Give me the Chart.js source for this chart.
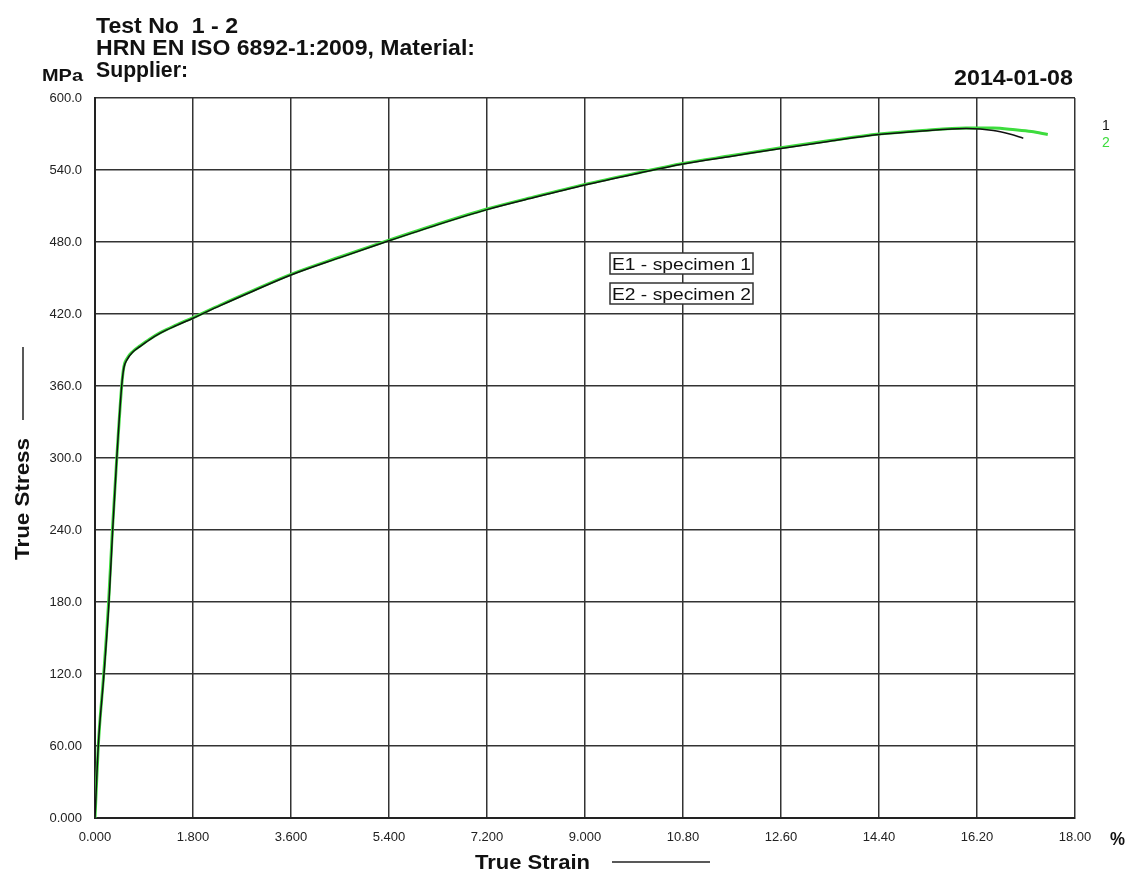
<!DOCTYPE html>
<html>
<head>
<meta charset="utf-8">
<script src="https://cdn.jsdelivr.net/npm/chart.js@4"></script>
<style>
  html, body { margin: 0; padding: 0; background: #fff; }
  canvas { display: block; }
</style>
</head>
<body>
<canvas id="chart" width="1129" height="874"></canvas>
<script>
// specimen 1 (black)
const strain1 = [0, 0.06, 0.165, 0.257, 0.325, 0.40, 0.49, 0.53, 0.59, 0.70, 0.83, 1.0, 1.2, 1.5, 1.8, 2.3, 2.9, 3.6, 4.5, 5.4, 6.3, 7.2, 8.1, 9.0, 9.9, 10.8, 11.7, 12.6, 13.5, 14.4, 15.2, 16.0, 16.5, 16.8, 17.05];
const stress1 = [0, 60, 120, 180, 240, 300, 360, 375, 382, 388.5, 393, 398.5, 404, 410.5, 416.5, 427, 439, 452.5, 467, 481, 494.5, 507, 517.5, 527.5, 536.5, 545, 551.5, 558, 564, 569.5, 572.5, 574.5, 573, 570, 566.5];
// specimen 2 (green)
const strain2 = [0, 0.06, 0.16, 0.25, 0.32, 0.40, 0.49, 0.53, 0.59, 0.70, 0.83, 1.0, 1.2, 1.5, 1.8, 2.3, 2.9, 3.6, 4.5, 5.4, 6.3, 7.2, 8.1, 9.0, 9.9, 10.8, 11.7, 12.6, 13.5, 14.4, 15.2, 16.0, 16.5, 16.9, 17.2, 17.5];
const stress2 = [0, 60, 120, 180, 240, 300, 360, 376, 383, 389, 393.5, 399, 404.5, 411, 417, 427.5, 439.5, 453, 467.5, 481.5, 495, 507.5, 518, 528, 537, 545.5, 552, 558.5, 564.5, 570, 573, 575, 575, 573.5, 572, 569.5];

const xTicks = [0, 1.8, 3.6, 5.4, 7.2, 9.0, 10.8, 12.6, 14.4, 16.2, 18.0];
const yTicks = [0, 60, 120, 180, 240, 300, 360, 420, 480, 540, 600];

const seriesNames = ['1', '2'];
const boxLabels = ['E1 - specimen 1', 'E2 - specimen 2'];
const titleLines = ['Test No  1 - 2', 'HRN EN ISO 6892-1:2009, Material:', 'Supplier:'];
const dateText = '2014-01-08';

const FONT = '"Liberation Sans", Arial, Helvetica, sans-serif';

function pts(xs, ys) {
  return xs.map((x, i) => ({ x: x, y: ys[i] }));
}

// draw text squeezed/stretched to a given width
function fitText(ctx, text, x, y, font, width, align) {
  ctx.save();
  ctx.font = font;
  const w = ctx.measureText(text).width;
  const s = width ? width / w : 1;
  ctx.textAlign = 'left';
  let x0 = x;
  if (align === 'right') x0 = x - w * s;
  if (align === 'center') x0 = x - w * s / 2;
  ctx.translate(x0, y);
  ctx.scale(s, 1);
  ctx.fillText(text, 0, 0);
  ctx.restore();
}

const decorations = {
  id: 'decorations',
  afterDraw(chart) {
    const ctx = chart.ctx;
    ctx.save();
    ctx.fillStyle = '#111';
    ctx.textBaseline = 'alphabetic';

    fitText(ctx, titleLines[0], 96, 33, 'bold 22px ' + FONT, 142);
    fitText(ctx, titleLines[1], 96, 55, 'bold 22px ' + FONT, 379);
    fitText(ctx, titleLines[2], 96, 77, 'bold 22px ' + FONT, 92);
    fitText(ctx, 'MPa', 42, 81, 'bold 17px ' + FONT, 41);
    fitText(ctx, dateText, 1073, 85, 'bold 22px ' + FONT, 119, 'right');
    fitText(ctx, '%', 1110, 845, 'bold 19px ' + FONT, 15);

    // axis titles with their little lines
    fitText(ctx, 'True Strain', 475, 869, 'bold 21px ' + FONT, 115);
    ctx.strokeStyle = '#222';
    ctx.lineWidth = 1.5;
    ctx.beginPath();
    ctx.moveTo(612, 862);
    ctx.lineTo(710, 862);
    ctx.stroke();

    ctx.save();
    ctx.translate(29, 560);
    ctx.rotate(-Math.PI / 2);
    fitText(ctx, 'True Stress', 0, 0, 'bold 21px ' + FONT, 122);
    ctx.restore();
    ctx.beginPath();
    ctx.moveTo(23, 347);
    ctx.lineTo(23, 420);
    ctx.stroke();

    // series numbers on the right
    chart.data.datasets.forEach((ds, i) => {
      ctx.fillStyle = ds.borderColor;
      fitText(ctx, ds.label, 1102, 130 + i * 17, '14px ' + FONT, 0);
    });

    // specimen boxes
    const bx = 610, bw = 143;
    const by = [253, 283];
    boxLabels.forEach((t, i) => {
      ctx.fillStyle = '#fff';
      ctx.fillRect(bx, by[i], bw, 21);
      ctx.strokeStyle = '#333';
      ctx.lineWidth = 1.5;
      ctx.strokeRect(bx, by[i], bw, 21);
      ctx.fillStyle = '#111';
      fitText(ctx, t, bx + 2, by[i] + 17, '17px ' + FONT, bw - 4);
    });
    ctx.restore();
  }
};

const fmt = v => Number(v).toPrecision(4);

new Chart(document.getElementById('chart'), {
  type: 'line',
  data: {
    datasets: [
      {
        label: seriesNames[0],
        data: pts(strain1, stress1),
        borderColor: '#111111',
        borderWidth: 1.5,
        pointRadius: 0,
        fill: false,
        cubicInterpolationMode: 'monotone'
      },
      {
        label: seriesNames[1],
        data: pts(strain2, stress2),
        borderColor: '#3ddc3d',
        borderWidth: 3,
        pointRadius: 0,
        fill: false,
        cubicInterpolationMode: 'monotone'
      }
    ]
  },
  options: {
    responsive: false,
    animation: false,
    layout: { padding: { left: 0, top: 98, right: 54, bottom: 0 } },
    plugins: {
      legend: { display: false },
      tooltip: { enabled: false },
      title: { display: false }
    },
    scales: {
      x: {
        type: 'linear',
        min: 0,
        max: 18,
        afterBuildTicks: s => { s.ticks = xTicks.map(v => ({ value: v })); },
        afterFit: s => { s.height = 874 - 818; },
        grid: { color: '#333', lineWidth: 1.5, drawTicks: false },
        border: { color: '#222', width: 2 },
        ticks: {
          padding: 12,
          color: '#222',
          maxRotation: 0,
          autoSkip: false,
          font: { family: FONT, size: 13 },
          callback: v => fmt(v)
        }
      },
      y: {
        type: 'linear',
        min: 0,
        max: 600,
        afterBuildTicks: s => { s.ticks = yTicks.map(v => ({ value: v })); },
        afterFit: s => { s.width = 95; },
        grid: { color: '#333', lineWidth: 1.5, drawTicks: false },
        border: { color: '#222', width: 2 },
        ticks: {
          padding: 13,
          color: '#222',
          autoSkip: false,
          font: { family: FONT, size: 13 },
          callback: v => fmt(v)
        }
      }
    }
  },
  plugins: [decorations]
});
</script>
</body>
</html>
